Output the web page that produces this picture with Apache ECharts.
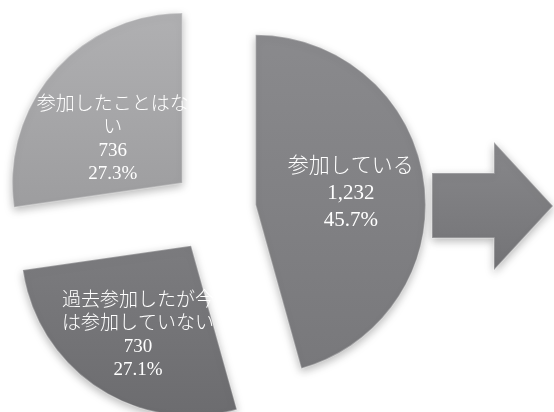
<!DOCTYPE html>
<html>
<head>
<meta charset="utf-8">
<script src="https://cdn.jsdelivr.net/npm/echarts@6/dist/echarts.min.js"></script>
<style>
  html, body { margin: 0; padding: 0; background: #ffffff; }
  #chart { width: 554px; height: 412px; }
</style>
</head>
<body>
<div id="chart"></div>
<script>
// Participation status: count per answer
const categories = ['参加している', '過去参加したが今は参加していない', '参加したことはない'];
const counts = [1232, 730, 736];

// Fill gradients per slice (top -> bottom)
const sliceFills = [
  ['#8a8a8d', '#78787b'],
  ['#7c7c7f', '#6c6c6f'],
  ['#b0b0b2', '#9d9d9f']
];
// Label text settings per slice
const labelStyles = [
  { fontSize: 21, lineHeight: 27, shift: [8, 1] },
  { fontSize: 19, lineHeight: 23, shift: [-5, 16] },
  { fontSize: 19, lineHeight: 23, shift: [-3, 14] }
];

const total = counts.reduce((a, b) => a + b, 0);
const textFont = "'Liberation Serif', 'Noto Sans CJK JP', serif";

const pieData = categories.map((name, i) => ({
  name: name,
  value: counts[i],
  selected: true,
  itemStyle: {
    color: new echarts.graphic.LinearGradient(0, 0, 0, 1, [
      { offset: 0, color: sliceFills[i][0] },
      { offset: 1, color: sliceFills[i][1] }
    ])
  },
  label: {
    fontSize: labelStyles[i].fontSize,
    lineHeight: labelStyles[i].lineHeight
  }
}));

const chart = echarts.init(document.getElementById('chart'), null, { renderer: 'canvas' });

chart.setOption({
  backgroundColor: '#ffffff',
  animation: false,
  series: [{
    type: 'pie',
    center: [214, 210.5],
    radius: 170,
    startAngle: 90,
    clockwise: true,
    selectedMode: 'multiple',
    selectedOffset: 42,
    avoidLabelOverlap: false,
    itemStyle: {
      borderColor: 'rgba(255,255,255,0.28)',
      borderWidth: 1.5,
      shadowBlur: 8,
      shadowColor: 'rgba(0,0,0,0.28)',
      shadowOffsetY: 3
    },
    select: { itemStyle: { borderColor: 'rgba(255,255,255,0.28)', borderWidth: 1.5 } },
    emphasis: { disabled: true },
    label: {
      show: true,
      position: 'inside',
      color: '#ffffff',
      fontFamily: textFont,
      fontWeight: 300,
      width: 160,
      overflow: 'break',
      align: 'center',
      formatter: function (p) {
        const pct = (p.value / total * 100).toFixed(1);
        return p.name + '\n' + echarts.format.addCommas(p.value) + '\n' + pct + '%';
      }
    },
    labelLayout: function (p) {
      const s = labelStyles[p.dataIndex].shift;
      return { dx: s[0], dy: s[1] };
    },
    labelLine: { show: false },
    data: pieData
  }],
  graphic: [{
    // block arrow to the right of the pie
    type: 'polygon',
    shape: {
      points: [[432, 173], [494, 173], [494, 142], [553, 206], [494, 270], [494, 238], [432, 238]]
    },
    style: {
      fill: new echarts.graphic.LinearGradient(0, 0, 0, 1, [
        { offset: 0, color: '#88888b' },
        { offset: 1, color: '#737376' }
      ]),
      stroke: 'rgba(255,255,255,0.3)',
      lineWidth: 1.5,
      shadowBlur: 8,
      shadowColor: 'rgba(0,0,0,0.28)',
      shadowOffsetY: 3
    }
  }]
});
</script>
</body>
</html>
